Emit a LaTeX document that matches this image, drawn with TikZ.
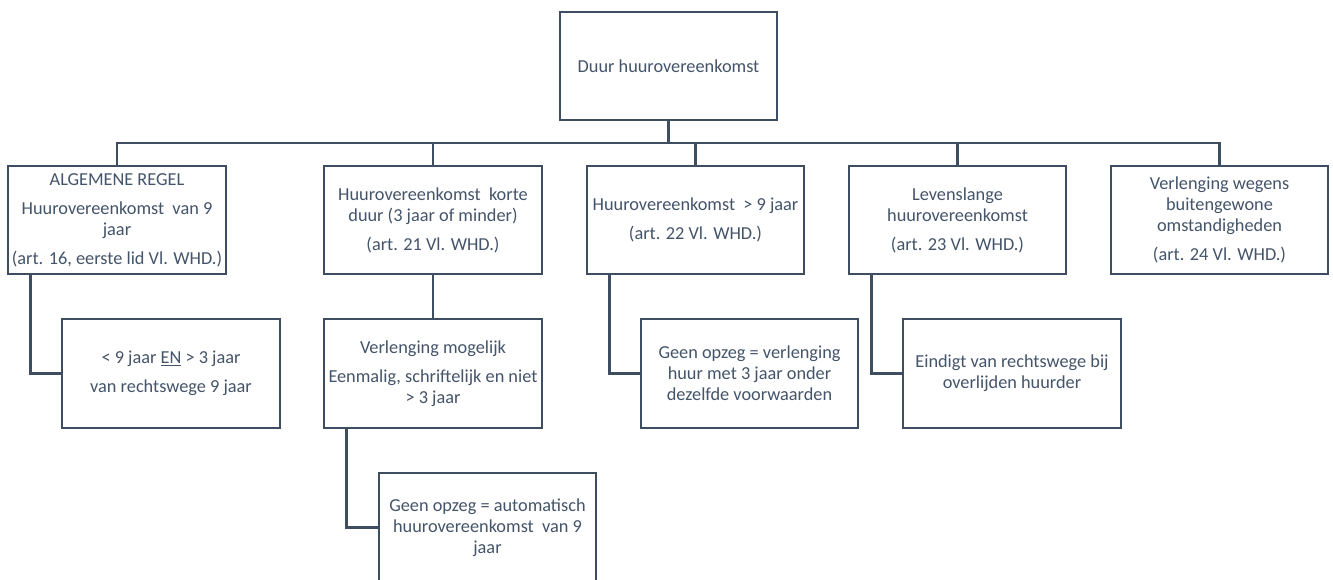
\documentclass[tikz,border=0pt]{standalone}
\usepackage{fontspec}
\setmainfont{Carlito}
\definecolor{slate}{HTML}{44546A}
\definecolor{slateline}{HTML}{3F4D61}
\begin{document}
\begin{tikzpicture}[x=1pt,y=-1pt,
  box/.style={draw=slateline, line width=2.3pt, fill=white, rectangle, inner sep=0pt, outer sep=0pt,
    minimum height=108pt, align=center, text=slate, font=\fontsize{18.3}{21}\selectfont},
  conn/.style={draw=slateline, line width=2.3pt}]
\useasboundingbox (0,0) rectangle (1333,580);
% top
\node[box, minimum width=217pt] (top) at (668.5,66) {Duur huurovereenkomst};
% row 1
\node[box, minimum width=218pt] (b1) at (117,220) {ALGEMENE REGEL\\[8pt]Huurovereenkomst~ van 9\\jaar\\[8pt](art. 16, eerste lid Vl. WHD.)};
\node[box, minimum width=218pt] (b2) at (433,220) {Huurovereenkomst~ korte\\duur (3 jaar of minder)\\[8pt](art. 21 Vl. WHD.)};
\node[box, minimum width=217pt] (b3) at (695.5,220) {Huurovereenkomst~ > 9 jaar\\[8pt](art. 22 Vl. WHD.)};
\node[box, minimum width=217pt] (b4) at (957.5,220) {Levenslange\\huurovereenkomst\\[8pt](art. 23 Vl. WHD.)};
\node[box, minimum width=217pt] (b5) at (1219.5,220) {Verlenging wegens\\buitengewone\\omstandigheden\\[8pt](art. 24 Vl. WHD.)};
% row 2
\node[box, minimum width=218pt, minimum height=109pt] (c1) at (171,373.5) {< 9 jaar \underline{EN} > 3 jaar\\[8pt]van rechtswege 9 jaar};
\node[box, minimum width=218pt, minimum height=109pt] (c2) at (433,373.5) {Verlenging mogelijk\\[8pt]Eenmalig, schriftelijk en niet\\> 3 jaar};
\node[box, minimum width=217pt, minimum height=109pt] (c3) at (749.5,373.5) {Geen opzeg = verlenging\\huur met 3 jaar onder\\dezelfde voorwaarden};
\node[box, minimum width=218pt, minimum height=109pt] (c4) at (1012,373.5) {Eindigt van rechtswege bij\\overlijden huurder};
% row 3
\node[box, minimum width=217pt, minimum height=109pt] (g1) at (487.5,527.5) {Geen opzeg = automatisch\\huurovereenkomst~ van 9\\jaar};
% connectors
\coordinate (bus) at (0,143);
\draw[conn] (top.south) -- (top.south |- bus);
\draw[conn] (b1.north) -- (b1.north |- bus) -- (b5.north |- bus) -- (b5.north);
\draw[conn] (b2.north) -- (b2.north |- bus);
\draw[conn] (b3.north) -- (b3.north |- bus);
\draw[conn] (b4.north) -- (b4.north |- bus);
\draw[conn] ([xshift=22.5pt]b1.south west) |- (c1.west);
\draw[conn] (b2.south) -- (c2.north);
\draw[conn] ([xshift=22.5pt]b3.south west) |- (c3.west);
\draw[conn] ([xshift=22.5pt]b4.south west) |- (c4.west);
\draw[conn] ([xshift=22.5pt]c2.south west) |- (g1.west);
\end{tikzpicture}
\end{document}
